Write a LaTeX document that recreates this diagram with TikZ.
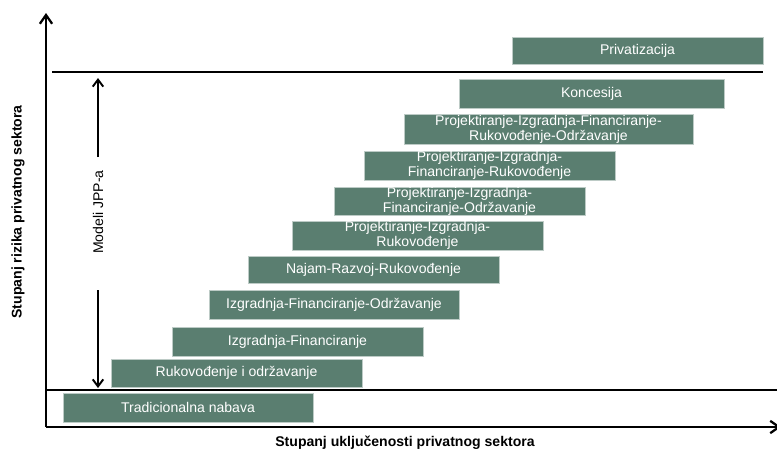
\documentclass[tikz,border=0pt]{standalone}
\usepackage{fontspec}
\setmainfont{Liberation Sans}
\usepackage{xcolor}
\usepackage{tikz}
\usetikzlibrary{arrows.meta, positioning, calc}
\definecolor{jppgreen}{HTML}{5A7E70}

\tikzset{
  stepbox/.style={fill=jppgreen, draw=jppgreen!40, line width=0.4pt,
                  text=white, inner sep=0pt, align=center,
                  font=\fontsize{8}{8.6}\selectfont},
  axis/.style={line width=1.3pt, -{Straight Barb[length=5pt, width=7pt]}},
  axlabel/.style={font=\fontsize{8}{9}\selectfont\bfseries}
}

\begin{document}
\begin{tikzpicture}[x=0.02cm, y=-0.02cm]
  \useasboundingbox (0,0) rectangle (777,451);
  \def\px{0.02cm}
  %% levels of private sector risk vs. involvement
  %% boxes: name/left/top/right/bottom/text (pixels)
  \foreach \nm/\xa/\ya/\xb/\yb/\txt in {
      priv/512/37/763/64/Privatizacija,
      konc/459/79/724/108/Koncesija,
      pifro/404/114/693/144/{Projektiranje-Izgradnja-Financiranje-\\Rukovođenje-Održavanje},
      pifr/364/151/615/180/{Projektiranje-Izgradnja-\\Financiranje-Rukovođenje},
      pifo/334/187/585/215/{Projektiranje-Izgradnja-\\Financiranje-Održavanje},
      pir/292/221/543/250/{Projektiranje-Izgradnja-\\Rukovođenje},
      nrr/248/256/499/283/Najam-Razvoj-Rukovođenje,
      ifo/209/290/459/319/Izgradnja-Financiranje-Održavanje,
      ifin/172/327/423/356/Izgradnja-Financiranje,
      ruk/111/359/362/387/Rukovođenje i održavanje,
      trad/63/393/313/422/Tradicionalna nabava} {
    \node[stepbox, minimum width={(\xb-\xa)*\px}, minimum height={(\yb-\ya)*\px}]
      (\nm) at ({(\xa+\xb)/2}, {(\ya+\yb)/2}) {\txt};
  }

  %% axes
  \coordinate (origin) at (46,427);
  \coordinate (ytip) at (46,13);
  \coordinate (xtip) at (781,427);
  \draw[axis] (origin) -- (ytip);
  \draw[axis] (origin) -- (xtip);
  \node[axlabel, rotate=90] (ylab) at (18,212) {Stupanj rizika privatnog sektora};
  \node[axlabel] (xlab) at (405,443) {Stupanj uključenosti privatnog sektora};

  %% separators
  \coordinate (topl) at (52,72);
  \coordinate (topr) at (763,72);
  \coordinate (botl) at (46,390);
  \coordinate (botr) at (777,390);
  \draw[line width=0.7pt] (topl) -- (topr);
  \draw[line width=0.7pt] (botl) -- (botr);

  %% range of the PPP models
  \node[rotate=90, font=\fontsize{8}{9}\selectfont] (jpp) at (98,212) {Modeli JPP-a};
  \coordinate (jpptop) at (98,78);
  \coordinate (jppbot) at (98,388);
  \draw[line width=1.1pt, -{Straight Barb[length=4pt, width=6pt]}]
    ($(jpp.east)+(0,-7)$) -- (jpptop);
  \draw[line width=1.1pt, -{Straight Barb[length=4pt, width=6pt]}]
    ($(jpp.west)+(0,30)$) -- (jppbot);
\end{tikzpicture}
\end{document}
